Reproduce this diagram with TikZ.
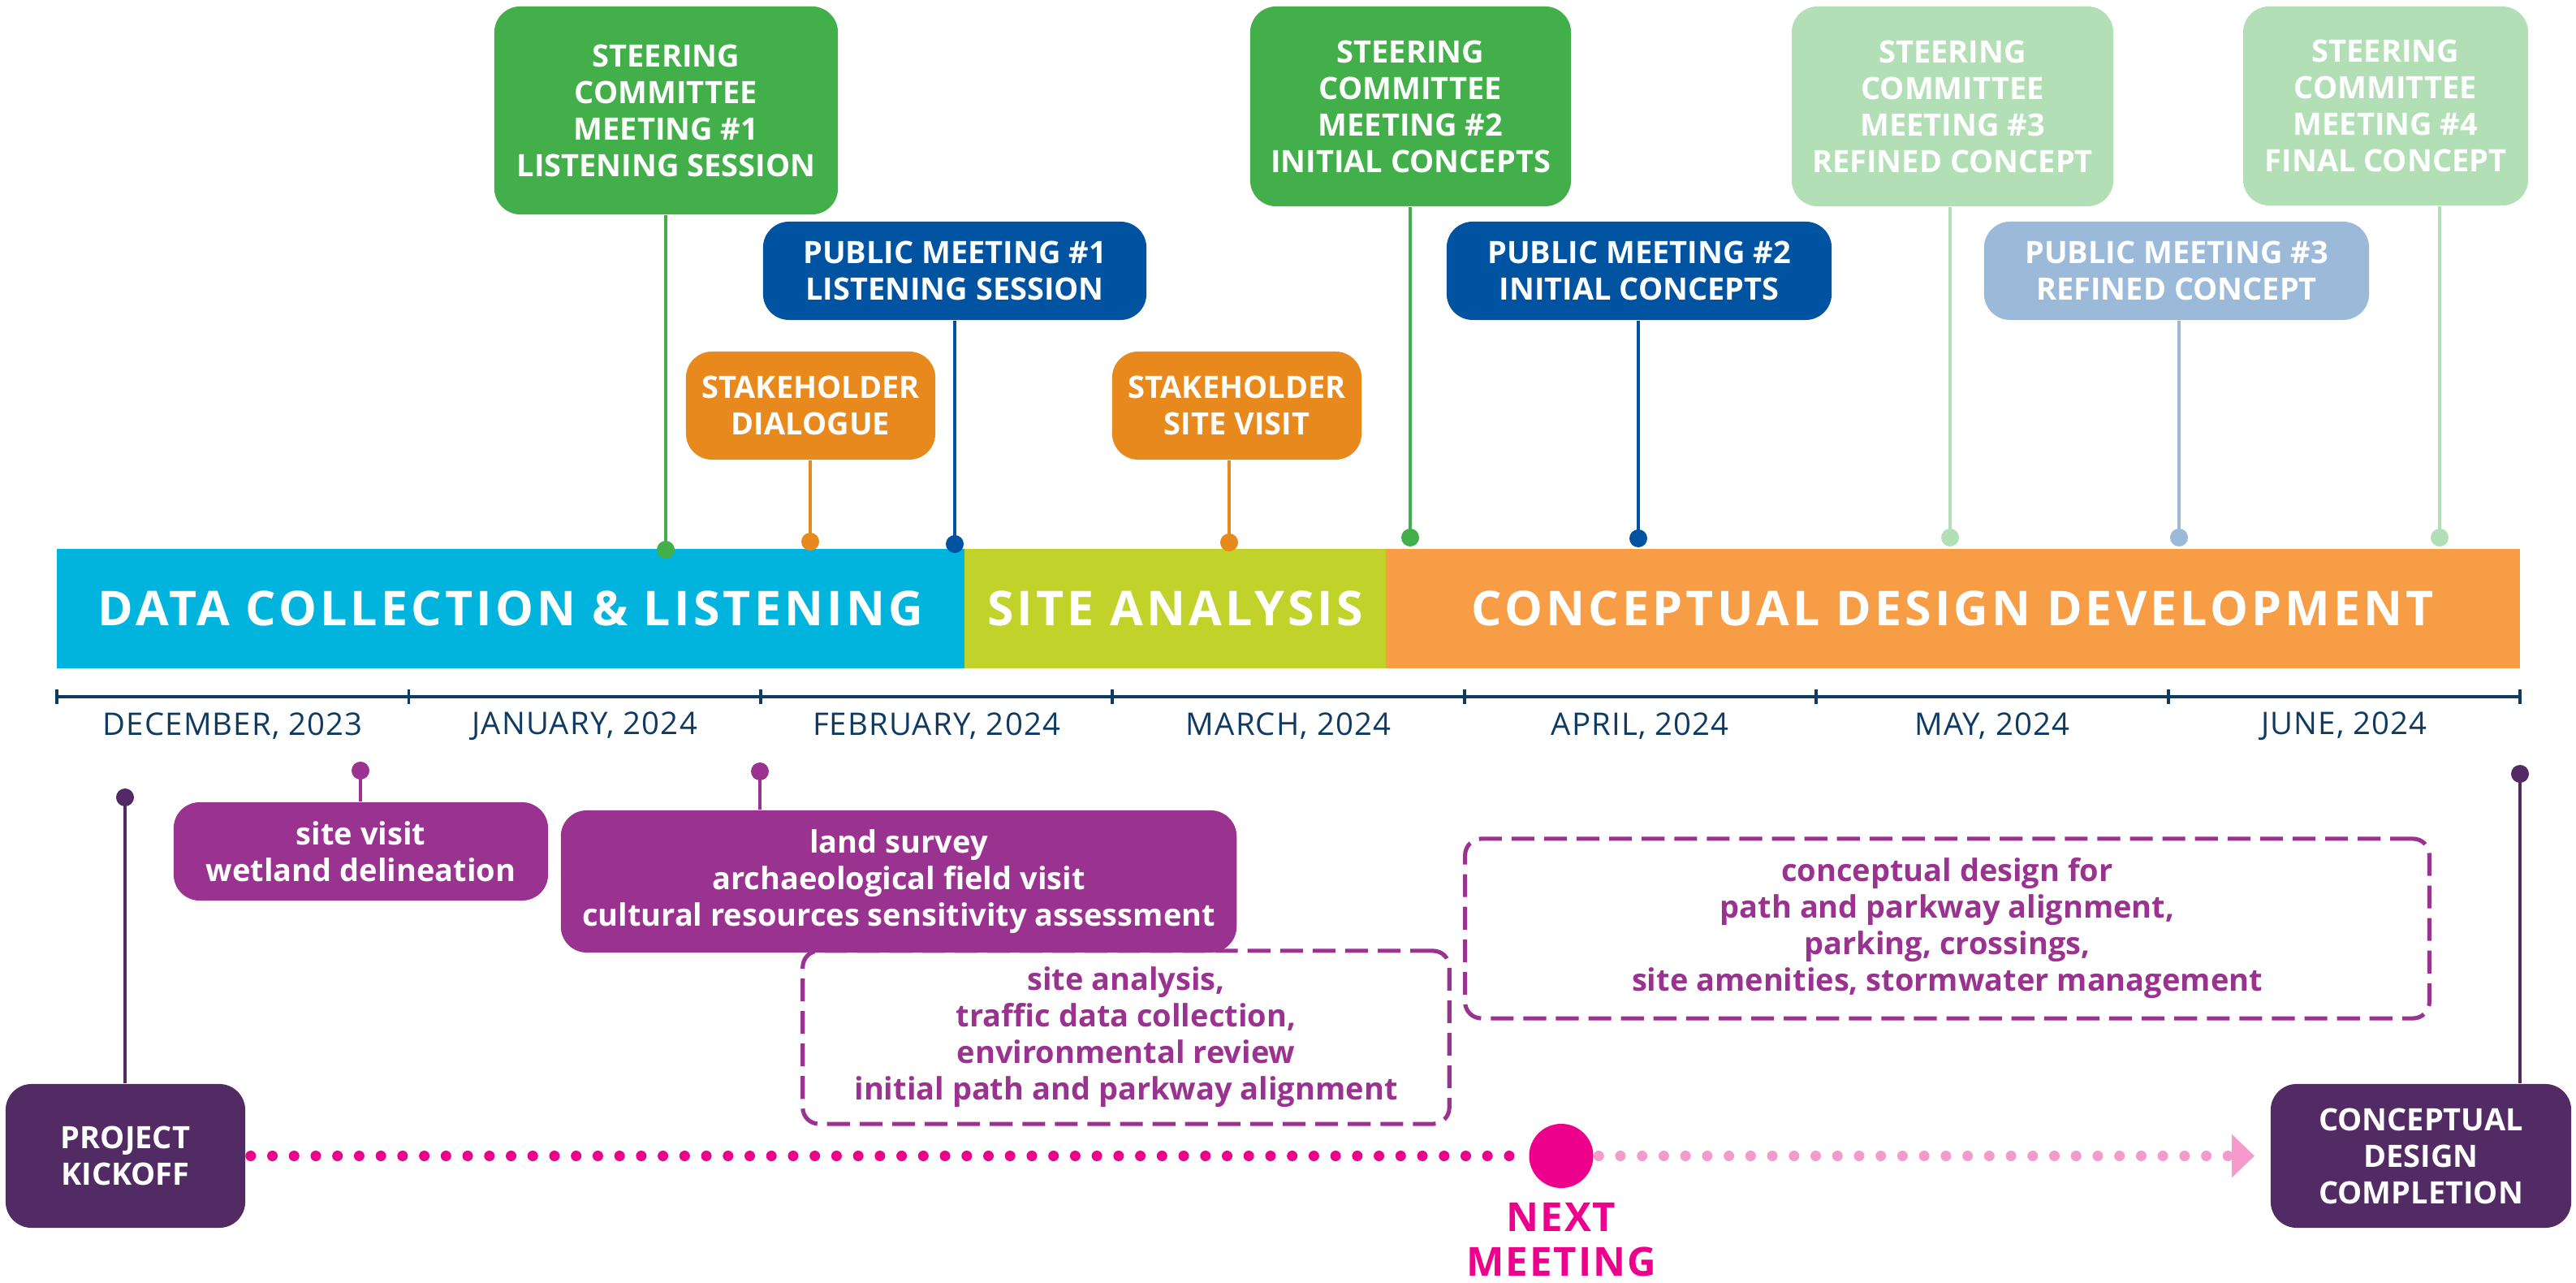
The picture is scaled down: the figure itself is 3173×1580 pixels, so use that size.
\documentclass[tikz,border=0pt]{standalone}
\usepackage{fontspec}
\setmainfont{Open Sans}
\usetikzlibrary{arrows.meta}
\definecolor{cyanbar}{HTML}{00B4DE}
\definecolor{limebar}{HTML}{C1D32A}
\definecolor{orangebar}{HTML}{F79D46}
\definecolor{scgreen}{HTML}{42AF4B}
\definecolor{pmblue}{HTML}{0053A0}
\definecolor{sdorange}{HTML}{E8891D}
\definecolor{lightgreen}{HTML}{B3DFB6}
\definecolor{lightblue}{HTML}{9BBAD9}
\definecolor{purp}{HTML}{9A3390}
\definecolor{darkpurp}{HTML}{522B65}
\definecolor{magen}{HTML}{EC008C}
\definecolor{pinkl}{HTML}{F59ACB}
\definecolor{navy}{HTML}{0F3A62}
\newcommand\boxfont{\bfseries\fontsize{10.8}{12.8}\selectfont}
\newcommand\phasefont{\bfseries\fontsize{16.8}{18}\selectfont\addfontfeature{LetterSpace=7}}
\newcommand\monthfont{\fontsize{10.9}{12}\selectfont\addfontfeature{LetterSpace=3}}
\newcommand\nmfont{\bfseries\fontsize{14}{15.6}\selectfont\addfontfeature{LetterSpace=4}}
\tikzset{
  box/.style={rounded corners=0.32cm, inner sep=0pt, align=center, text=white, font=\boxfont},
  dbox/.style={rounded corners=0.2cm, inner sep=0pt, align=center, text=purp, font=\boxfont,
     draw=purp, line width=1.45pt, dash pattern=on 8pt off 3.4pt},
  phase/.style={inner sep=0pt, text=white, font=\phasefont},
  month/.style={text=navy, font=\monthfont, inner sep=0pt},
  stem/.style={line width=1.15pt},
  pin/.style={circle, inner sep=0pt, minimum size=0.22cm},
  dotline/.style={line width=3.7pt, line cap=round, dash pattern=on 0pt off 7.6pt},
}
\begin{document}
\begin{tikzpicture}[x=0.01cm,y=-0.01cm]
\useasboundingbox (0,0) rectangle (3173,1580);

% phase bars
\node[phase, fill=cyanbar, minimum width=11.18cm, minimum height=1.47cm] (ph1) at (629,749.5) {DATA COLLECTION \& LISTENING};
\node[phase, fill=limebar, minimum width=5.19cm, minimum height=1.47cm] (ph2) at (1447.5,749.5) {SITE ANALYSIS};
\node[phase, fill=orangebar, minimum width=13.97cm, minimum height=1.47cm] (ph3) at (2405.5,749.5) {CONCEPTUAL DESIGN DEVELOPMENT};

% axis
\coordinate (ax0) at (70,858);
\coordinate (ax7) at (3104,858);
\draw[navy, line width=1.1pt] (ax0) -- (ax7);
\foreach \i in {0,...,7}{
  \draw[navy, line width=1.1pt] ({70+\i*433.43},849) -- ({70+\i*433.43},867);
}
\node[month] (m1) at (286.7,894) {DECEMBER, 2023};
\node[month] (m2) at (720.1,894) {JANUARY, 2024};
\node[month] (m3) at (1153.6,894) {FEBRUARY, 2024};
\node[month] (m4) at (1587.0,894) {MARCH, 2024};
\node[month] (m5) at (2020.4,894) {APRIL, 2024};
\node[month] (m6) at (2453.9,894) {MAY, 2024};
\node[month] (m7) at (2887.3,894) {JUNE, 2024};

% top boxes
\node[box, fill=scgreen, minimum width=4.23cm, minimum height=2.56cm] (sc1) at (820.5,136) {STEERING\\COMMITTEE\\MEETING \#1\\LISTENING SESSION};
\node[box, fill=pmblue, minimum width=4.72cm, minimum height=1.21cm] (pm1) at (1176,333.5) {PUBLIC MEETING \#1\\LISTENING SESSION};
\node[box, fill=sdorange, minimum width=3.07cm, minimum height=1.33cm] (sd) at (998.5,499.5) {STAKEHOLDER\\DIALOGUE};
\node[box, fill=scgreen, minimum width=3.95cm, minimum height=2.46cm] (sc2) at (1737.5,131) {STEERING\\COMMITTEE\\MEETING \#2\\INITIAL CONCEPTS};
\node[box, fill=sdorange, minimum width=3.07cm, minimum height=1.33cm] (ssv) at (1523.5,499.5) {STAKEHOLDER\\SITE VISIT};
\node[box, fill=pmblue, minimum width=4.74cm, minimum height=1.21cm] (pm2) at (2019,333.5) {PUBLIC MEETING \#2\\INITIAL CONCEPTS};
\node[box, fill=lightgreen, minimum width=3.96cm, minimum height=2.46cm] (sc3) at (2405,131) {STEERING\\COMMITTEE\\MEETING \#3\\REFINED CONCEPT};
\node[box, fill=lightblue, minimum width=4.74cm, minimum height=1.21cm] (pm3) at (2681,333.5) {PUBLIC MEETING \#3\\REFINED CONCEPT};
\node[box, fill=lightgreen, minimum width=3.51cm, minimum height=2.45cm] (sc4) at (2938.5,130.5) {STEERING\\COMMITTEE\\MEETING \#4\\FINAL CONCEPT};

% top pins
\node[pin, fill=scgreen] (dsc1) at (820,677) {};
\node[pin, fill=pmblue] (dpm1) at (1176,670) {};
\node[pin, fill=sdorange] (dsd) at (998,667) {};
\node[pin, fill=scgreen] (dsc2) at (1737,662) {};
\node[pin, fill=sdorange] (dssv) at (1514,668) {};
\node[pin, fill=pmblue] (dpm2) at (2018,663) {};
\node[pin, fill=lightgreen] (dsc3) at (2402,662) {};
\node[pin, fill=lightblue] (dpm3) at (2684,662) {};
\node[pin, fill=lightgreen] (dsc4) at (3005,662) {};
\draw[stem, scgreen] (sc1.south -| dsc1) -- (dsc1.center);
\draw[stem, pmblue] (pm1.south -| dpm1) -- (dpm1.center);
\draw[stem, sdorange] (sd.south -| dsd) -- (dsd.center);
\draw[stem, scgreen] (sc2.south -| dsc2) -- (dsc2.center);
\draw[stem, sdorange] (ssv.south -| dssv) -- (dssv.center);
\draw[stem, pmblue] (pm2.south -| dpm2) -- (dpm2.center);
\draw[stem, lightgreen] (sc3.south -| dsc3) -- (dsc3.center);
\draw[stem, lightblue] (pm3.south -| dpm3) -- (dpm3.center);
\draw[stem, lightgreen] (sc4.south -| dsc4) -- (dsc4.center);

% bottom boxes
\node[dbox, minimum width=7.96cm, minimum height=2.13cm] (da) at (1387,1277.5) {site analysis,\\traffic data collection,\\environmental review\\initial path and parkway alignment};
\node[dbox, minimum width=11.87cm, minimum height=2.21cm] (dc) at (2398.5,1143.5) {conceptual design for\\path and parkway alignment,\\parking, crossings,\\site amenities, stormwater management};
\node[box, fill=purp, minimum width=4.61cm, minimum height=1.21cm] (sv) at (444.5,1048.5) {site visit\\wetland delineation};
\node[box, fill=purp, minimum width=8.32cm, minimum height=1.75cm] (ls) at (1107,1085.5) {land survey\\archaeological field visit\\cultural resources sensitivity assessment};
\node[box, fill=darkpurp, minimum width=2.95cm, minimum height=1.77cm] (pk) at (154.5,1423.5) {PROJECT\\KICKOFF};
\node[box, fill=darkpurp, minimum width=3.70cm, minimum height=1.77cm] (cdc) at (2982,1423.5) {CONCEPTUAL\\DESIGN\\COMPLETION};

% bottom pins
\node[pin, fill=darkpurp] (dpk) at (154,982) {};
\node[pin, fill=purp] (dsv) at (444,949) {};
\node[pin, fill=purp] (dls) at (936,950) {};
\node[pin, fill=darkpurp] (dcdc) at (3104,953) {};
\draw[stem, darkpurp] (pk.north -| dpk) -- (dpk.center);
\draw[stem, purp] (sv.north -| dsv) -- (dsv.center);
\draw[stem, purp] (ls.north -| dls) -- (dls.center);
\draw[stem, darkpurp] (cdc.north -| dcdc) -- (dcdc.center);

% next meeting
\node[circle, fill=magen, minimum size=0.79cm, inner sep=0pt] (nm) at (1923,1423.5) {};
\node[text=magen, font=\nmfont, align=center, inner sep=0pt] (nml) at (1923,1527) {NEXT\\MEETING};
\coordinate (tip) at (2777,1423.5);
\draw[dotline, magen, shorten <=0.06cm, shorten >=0.08cm] (pk.east) -- (nm.west);
\draw[dotline, pinkl, shorten <=0.06cm, -{Triangle[length=0.28cm, width=0.52cm]}] (nm.east) -- (tip);
\end{tikzpicture}
\end{document}
